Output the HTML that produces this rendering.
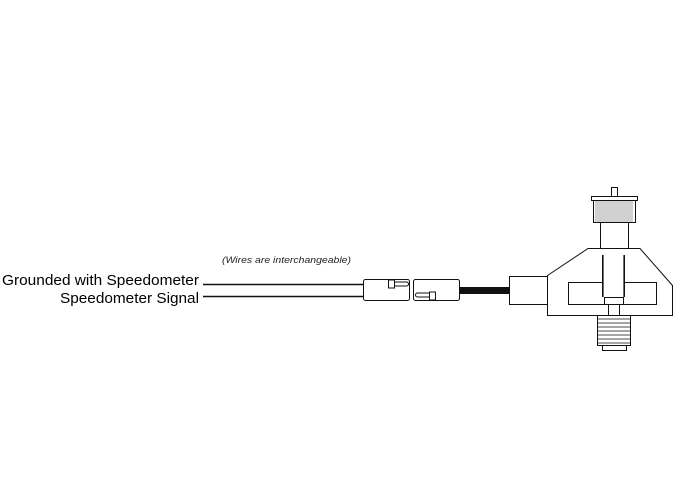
<!DOCTYPE html><html><head><style>body{margin:0;background:#fff}svg{display:block}</style></head><body>
<svg width="680" height="499" xmlns="http://www.w3.org/2000/svg" font-family="Liberation Sans, Arial, sans-serif">
<g fill="none" stroke="#111" stroke-width="1">
<text x="2" y="285" font-size="15" textLength="197" lengthAdjust="spacingAndGlyphs" fill="#000" stroke="none">Grounded with Speedometer</text>
<text x="60" y="303" font-size="15" textLength="139" lengthAdjust="spacingAndGlyphs" fill="#000" stroke="none">Speedometer Signal</text>
<text x="222" y="263" font-size="9" font-style="italic" textLength="129" lengthAdjust="spacingAndGlyphs" fill="#222" stroke="none">(Wires are interchangeable)</text>
<line x1="203" y1="284.5" x2="364" y2="284.5" stroke-width="1.6"/>
<line x1="203" y1="296.5" x2="364" y2="296.5" stroke-width="1.6"/>
<rect x="363.5" y="279.5" width="46" height="21" rx="2"/>
<rect x="388.5" y="280" width="6" height="8"/>
<path d="M394.5 282h12a2 2 0 0 1 0 4h-12"/>
<rect x="413.5" y="279.5" width="46" height="21" rx="2"/>
<rect x="429.5" y="292" width="6" height="8"/>
<path d="M429.5 293h-12a2 2 0 0 0 0 4h12"/>
<rect x="460" y="287" width="49" height="7" fill="#111" stroke="none"/>
<rect x="509.5" y="276.5" width="38" height="28" fill="#fff"/>
<path d="M547.5 275.5L588 248.5H640L672.5 285.5V315.5H547.5Z" fill="#fff"/>
<rect x="568.5" y="282.5" width="88" height="22"/>
<rect x="602.5" y="255" width="22" height="42" fill="#fff" stroke="none"/>
<line x1="602.5" y1="255" x2="602.5" y2="297"/><line x1="624.5" y1="255" x2="624.5" y2="297"/>
<line x1="603.5" y1="255" x2="603.5" y2="297" stroke-width="0.6"/><line x1="623.5" y1="255" x2="623.5" y2="297" stroke-width="0.6"/>
<rect x="604.5" y="297.5" width="19" height="7" fill="#fff"/>
<rect x="608.5" y="304.5" width="11" height="11"/>
<rect x="597.5" y="315.5" width="33" height="30" fill="#fff"/>
<path d="M598 319h32M598 323h32M598 327h32M598 331h32M598 335h32M598 339h32M598 343h32" stroke-width="0.8"/>
<rect x="602.5" y="345.5" width="24" height="5"/>
<rect x="600.5" y="222.5" width="28" height="26" fill="#fff"/>
<rect x="593.5" y="200.5" width="42" height="22" fill="#fff"/>
<path d="M596 201v21M598 201v21M600 201v21M602 201v21M604 201v21M606 201v21M608 201v21M610 201v21M612 201v21M614 201v21M616 201v21M618 201v21M620 201v21M622 201v21M624 201v21M626 201v21M628 201v21M630 201v21M632 201v21" stroke-width="0.6" stroke="#666"/>
<rect x="591.5" y="196.5" width="46" height="4" fill="#fff"/>
<rect x="611.5" y="187.5" width="6" height="9" fill="#fff"/>
</g></svg></body></html>
